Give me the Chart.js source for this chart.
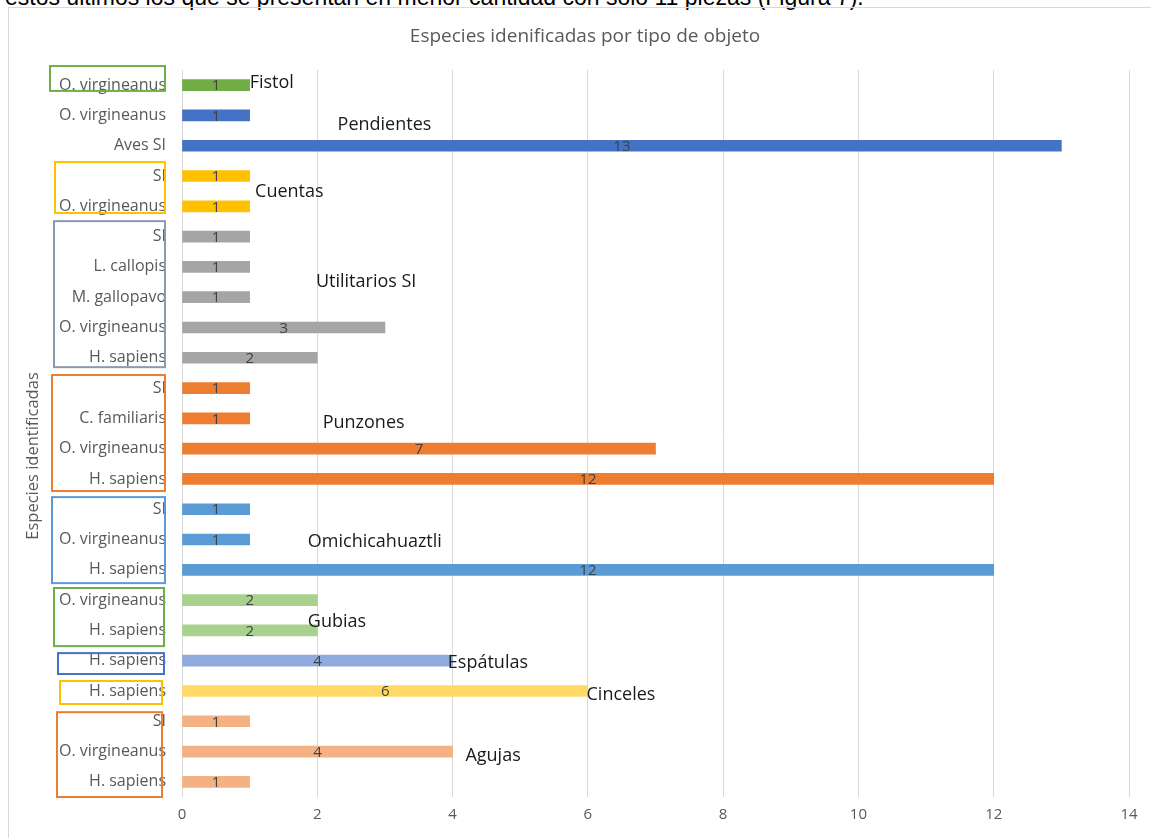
<!DOCTYPE html>
<html>
<head>
<meta charset="utf-8">
<title>Especies identificadas por tipo de objeto</title>
<script src="https://cdn.jsdelivr.net/npm/chart.js@4.4.0/dist/chart.umd.min.js"></script>
<style>
  html, body { margin: 0; padding: 0; background: #fff; overflow: hidden; }
  #page { position: relative; width: 1151px; height: 838px; overflow: hidden; }
  #lead { position: absolute; left: 5px; top: -16px; font: 23px/26px "Liberation Sans", Arial, sans-serif; color: #000; white-space: nowrap; }
  #frame { position: absolute; left: 8px; top: 7px; width: 1200px; height: 900px; border: 1px solid #d9d9d9; }
  #chart { position: absolute; left: 0; top: 0; }
</style>
</head>
<body>
<div id="page">
  <div id="lead">estos últimos los que se presentan en menor cantidad con solo 11 piezas (Figura 7).</div>
  <div id="frame"></div>
  <canvas id="chart" width="1151" height="838"></canvas>
</div>
<script>
'use strict';

// object types, listed top to bottom
let objectTypes = ['Fistol', 'Pendientes', 'Cuentas', 'Utilitarios SI', 'Punzones',
  'Omichicahuaztli', 'Gubias', 'Espátulas', 'Cinceles', 'Agujas'];

// species identified in each object type
let speciesByType = [
  ['O. virgineanus'],
  ['O. virgineanus', 'Aves SI'],
  ['SI', 'O. virgineanus'],
  ['SI', 'L. callopis', 'M. gallopavo', 'O. virgineanus', 'H. sapiens'],
  ['SI', 'C. familiaris', 'O. virgineanus', 'H. sapiens'],
  ['SI', 'O. virgineanus', 'H. sapiens'],
  ['O. virgineanus', 'H. sapiens'],
  ['H. sapiens'],
  ['H. sapiens'],
  ['SI', 'O. virgineanus', 'H. sapiens']
];

// number of pieces per species
let piecesByType = [
  [1],
  [1, 13],
  [1, 1],
  [1, 1, 1, 3, 2],
  [1, 1, 7, 12],
  [1, 1, 12],
  [2, 2],
  [4],
  [6],
  [1, 4, 1]
];

let xTicks = [0, 2, 4, 6, 8, 10, 12, 14];

// look of each group
let barColors = ['#70ad47', '#4472c4', '#ffc000', '#a5a5a5', '#ed7d31',
  '#5b9bd5', '#a9d18e', '#8faadc', '#ffd966', '#f4b183'];
let boxColors = ['#70ad47', null, '#ffc000', '#8c9aae', '#ed7d31',
  '#5b9bd5', '#70ad47', '#4472c4', '#ffc000', '#ed7d31'];
// box around the species names: x in px, top/bottom in category units
let boxX = [[50, 165], null, [55, 165], [54, 165], [52, 165], [52, 165], [54, 164], [58, 164], [60, 162], [57, 162]];
let boxY = [[-0.63, 0.19], null, [2.54, 4.22], [4.49, 9.31], [9.57, 13.4], [13.6, 16.44],
  [16.6, 18.52], [18.75, 19.44], [19.67, 20.43], [20.7, 23.5]];
// where the type name sits: [x value, category position]
let nameSpots = [[1.0, -0.07], [2.3, 1.32], [1.08, 3.53], [1.98, 6.5], [2.08, 11.15],
  [1.86, 15.08], [1.86, 17.72], [3.93, 19.08], [5.98, 20.14], [4.19, 22.15]];

let fontFamily = '"Open Sans", sans-serif';
Chart.defaults.font.family = fontFamily;

// flatten groups into one list of bars
let labels = [];
let values = [];
let colors = [];
for (let i = 0; i < objectTypes.length; i++) {
  for (let j = 0; j < speciesByType[i].length; j++) {
    labels.push(speciesByType[i][j]);
    values.push(piecesByType[i][j]);
    colors.push(barColors[i]);
  }
}

let decorations = {
  id: 'decorations',
  afterDatasetsDraw(chart) {
    let ctx = chart.ctx;
    let xs = chart.scales.x;
    let ys = chart.scales.y;

    ctx.save();
    ctx.textBaseline = 'middle';

    // chart title
    ctx.font = '19px ' + fontFamily;
    ctx.fillStyle = '#595959';
    ctx.textAlign = 'center';
    ctx.fillText('Especies idenificadas por tipo de objeto', 585, 37);

    // value in the middle of each bar
    ctx.font = '15px ' + fontFamily;
    ctx.fillStyle = '#404040';
    chart.getDatasetMeta(0).data.forEach((bar, i) => {
      ctx.fillText(String(values[i]), (bar.x + bar.base) / 2, bar.y + 1);
    });

    // object type names
    ctx.font = '18px ' + fontFamily;
    ctx.fillStyle = '#1a1a1a';
    ctx.textAlign = 'left';
    for (let i = 0; i < objectTypes.length; i++) {
      ctx.fillText(objectTypes[i], xs.getPixelForValue(nameSpots[i][0]), ys.getPixelForValue(nameSpots[i][1]));
    }

    // boxes around each group of species
    ctx.lineWidth = 2;
    for (let i = 0; i < objectTypes.length; i++) {
      if (!boxColors[i]) continue;
      let top = ys.getPixelForValue(boxY[i][0]);
      let bottom = ys.getPixelForValue(boxY[i][1]);
      ctx.strokeStyle = boxColors[i];
      ctx.strokeRect(boxX[i][0], top, boxX[i][1] - boxX[i][0], bottom - top);
    }

    // vertical axis title
    ctx.font = '16.5px ' + fontFamily;
    ctx.fillStyle = '#595959';
    ctx.textAlign = 'center';
    ctx.translate(33, 456);
    ctx.rotate(-Math.PI / 2);
    ctx.fillText('Especies identificadas', 0, 0);
    ctx.restore();
  }
};

let canvasElem = document.getElementById('chart');

new Chart(canvasElem, {
  type: 'bar',
  data: {
    labels: labels,
    datasets: [{
      data: values,
      backgroundColor: colors,
      barThickness: 11
    }]
  },
  options: {
    indexAxis: 'y',
    responsive: false,
    animation: false,
    layout: { padding: { left: 0, right: 22, top: 70, bottom: 15 } },
    plugins: {
      legend: { display: false },
      tooltip: { enabled: false },
      title: { display: false }
    },
    scales: {
      x: {
        min: 0,
        max: 14,
        afterBuildTicks: (scale) => { scale.ticks = xTicks.map(v => ({ value: v })); },
        grid: { color: '#d9d9d9', drawTicks: false },
        border: { display: false },
        ticks: { color: '#595959', font: { size: 15 }, padding: 9 },
        afterFit: (scale) => { scale.height = 26; }
      },
      y: {
        grid: { display: false, drawTicks: false },
        border: { display: false },
        ticks: { color: '#595959', font: { size: 16 }, padding: 16, autoSkip: false },
        afterFit: (scale) => { scale.width = 182; }
      }
    }
  },
  plugins: [decorations]
});
</script>
</body>
</html>
